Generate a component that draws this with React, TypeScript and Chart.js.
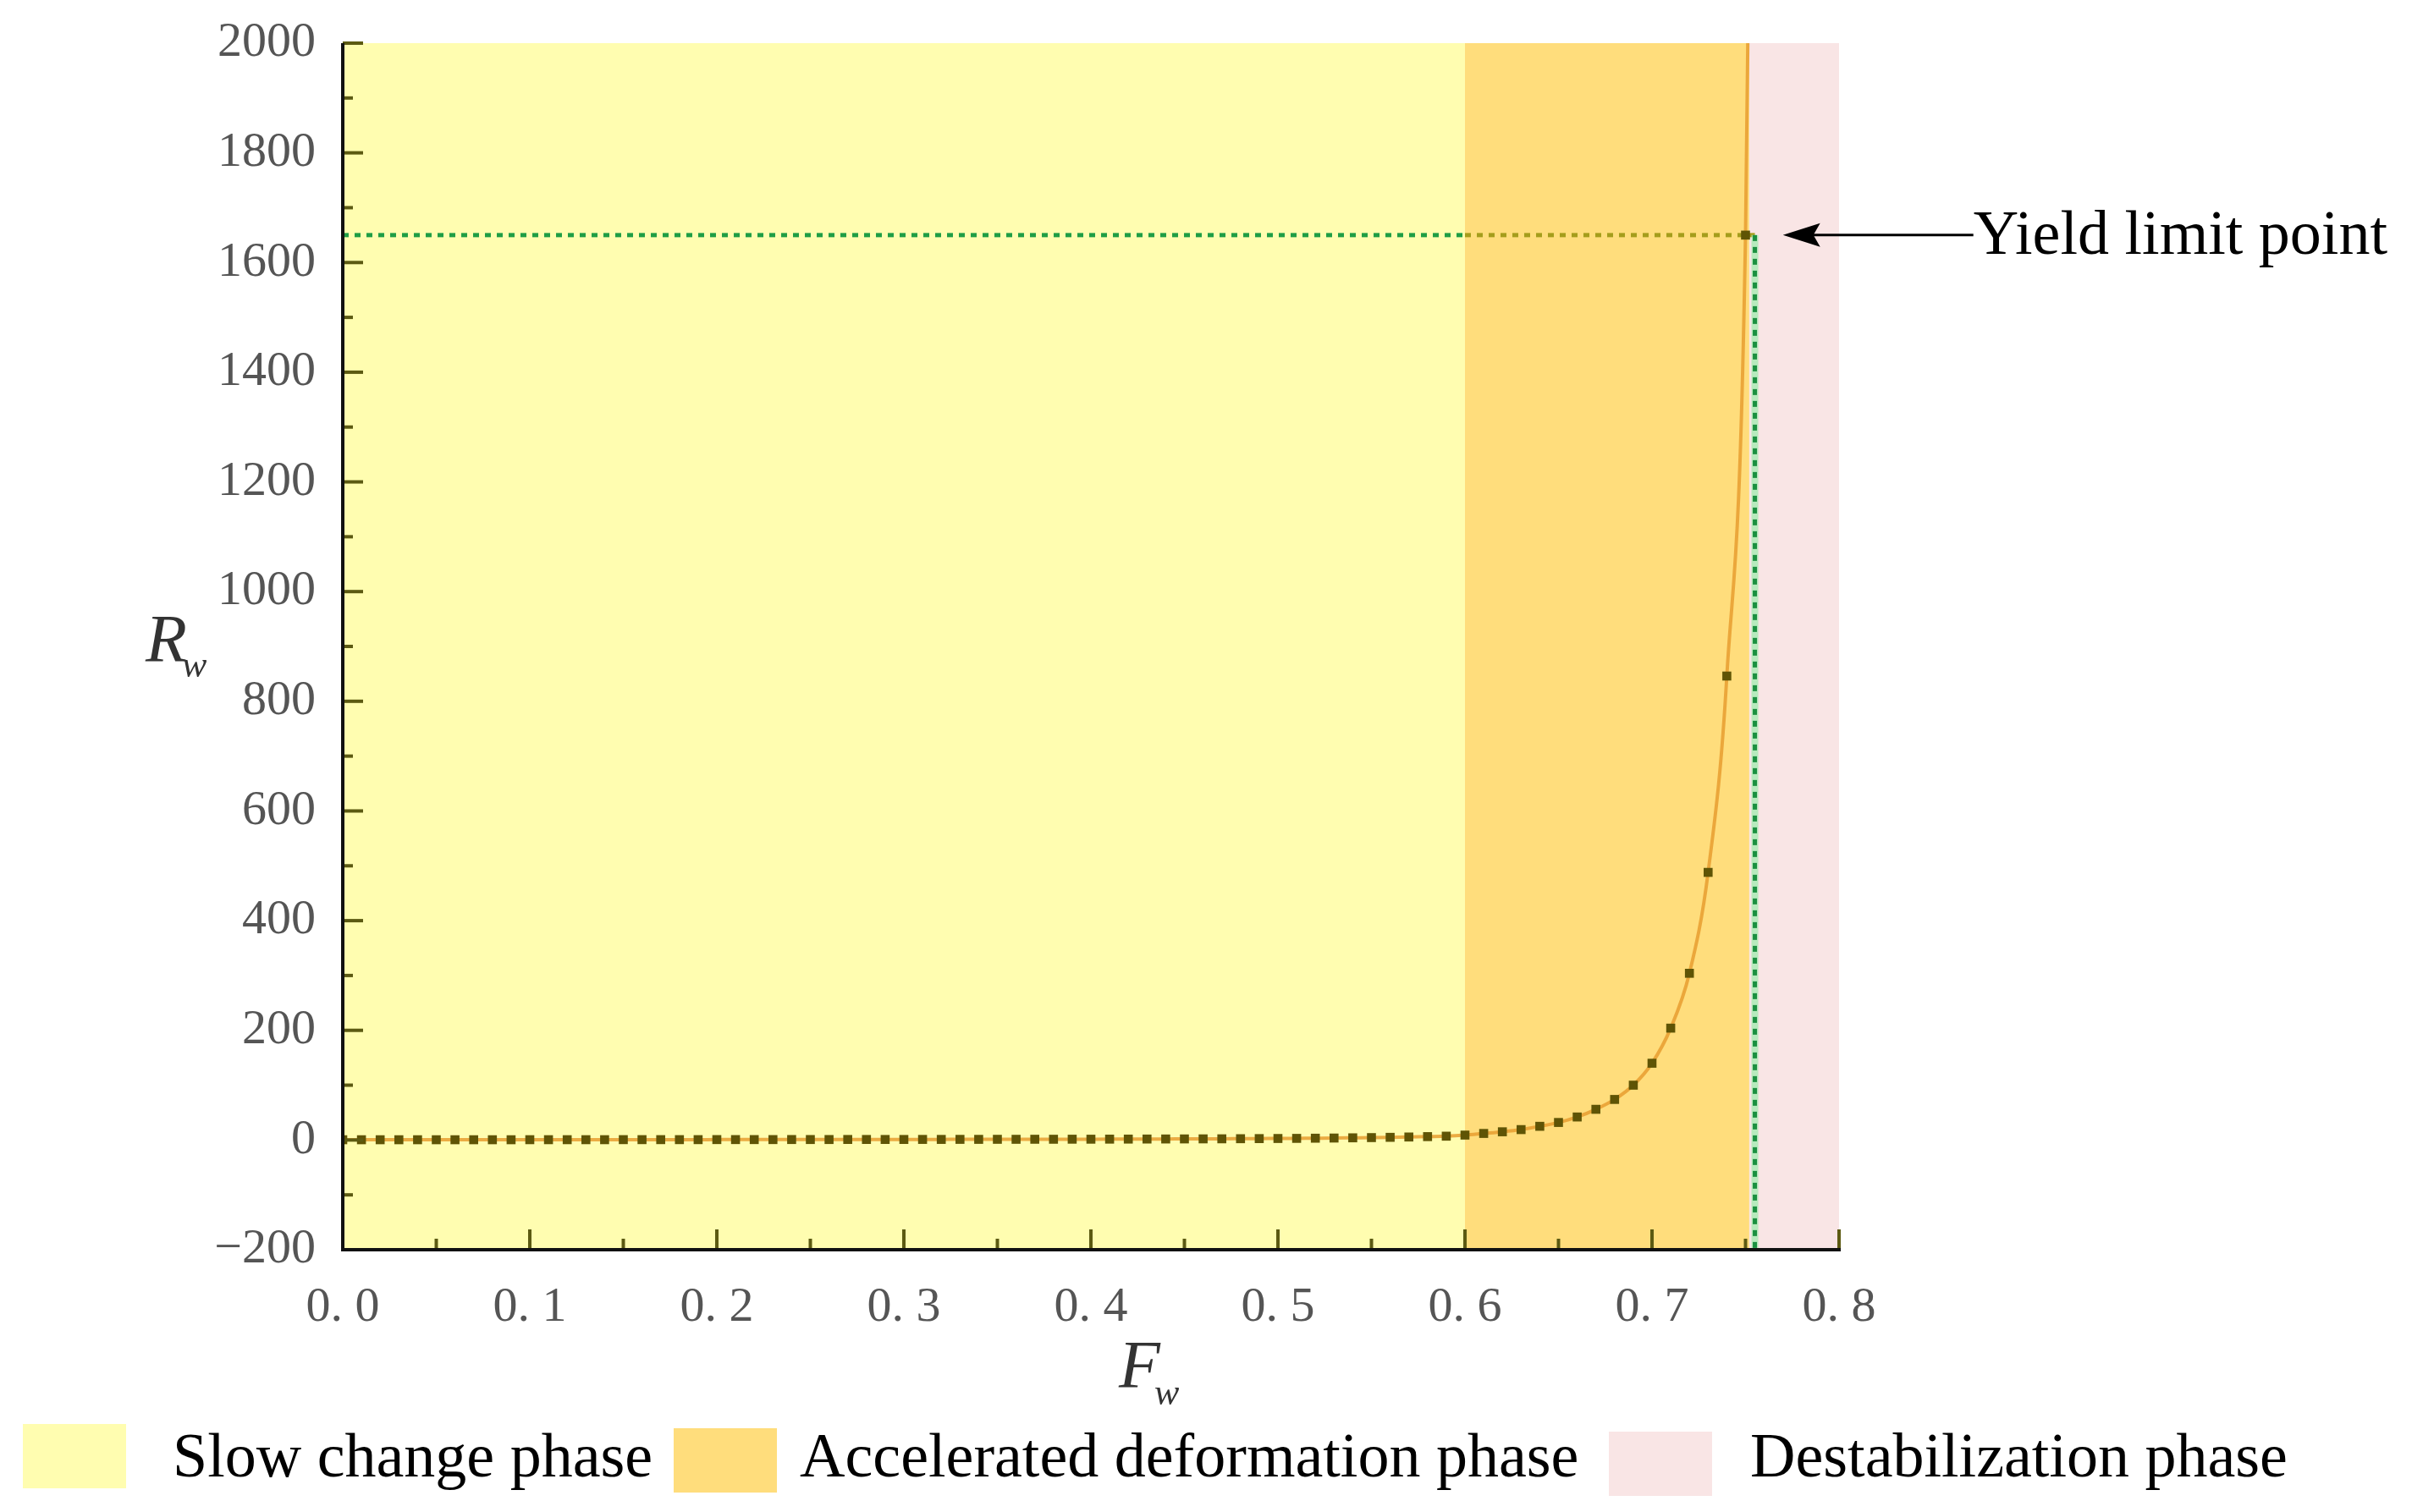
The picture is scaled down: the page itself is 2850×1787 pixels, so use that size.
import React, { useEffect, useRef } from 'react';
import { Chart, registerables } from 'chart.js';

Chart.register(...registerables);

// ---- Data ----
const FW_VALUES = [
  0.0, 0.01, 0.02, 0.03, 0.04, 0.05, 0.06, 0.07, 0.08, 0.09,
  0.1, 0.11, 0.12, 0.13, 0.14, 0.15, 0.16, 0.17, 0.18, 0.19,
  0.2, 0.21, 0.22, 0.23, 0.24, 0.25, 0.26, 0.27, 0.28, 0.29,
  0.3, 0.31, 0.32, 0.33, 0.34, 0.35, 0.36, 0.37, 0.38, 0.39,
  0.4, 0.41, 0.42, 0.43, 0.44, 0.45, 0.46, 0.47, 0.48, 0.49,
  0.5, 0.51, 0.52, 0.53, 0.54, 0.55, 0.56, 0.57, 0.58, 0.59,
  0.6, 0.61, 0.62, 0.63, 0.64, 0.65, 0.66, 0.67, 0.68, 0.69,
  0.7, 0.71, 0.72, 0.73, 0.74, 0.75, 0.7525,
];
const RW_VALUES = [
  0.5, 0.5, 0.5, 0.5, 0.5, 0.5, 0.5, 0.5, 0.5, 0.5,
  0.6, 0.6, 0.6, 0.6, 0.6, 0.7, 0.7, 0.7, 0.7, 0.7,
  0.8, 0.8, 0.8, 0.8, 0.9, 0.9, 0.9, 1, 1, 1,
  1, 1.1, 1.1, 1.2, 1.2, 1.3, 1.3, 1.4, 1.4, 1.5,
  1.5, 1.6, 1.7, 1.8, 1.9, 2, 2.1, 2.2, 2.4, 2.6,
  2.8, 3, 3.3, 3.6, 4, 4.4, 4.9, 5.5, 6.2, 7,
  9, 12, 15, 19, 25, 32, 42, 56, 74, 100,
  140, 204, 304, 488, 846, 1650, 2400,
];

const X_MIN = 0;
const X_MAX = 0.8;
const X_STEP = 0.1;
const Y_MIN = -200;
const Y_MAX = 2000;
const Y_STEP = 200;

const PHASE_NAMES = ['Slow change phase', 'Accelerated deformation phase', 'Destabilization phase'];
const PHASE_COLORS = ['#FFFDB0', '#FFDD7C', '#F9E5E5'];
const PHASE_BOUNDS = [0, 0.6, 0.752, 0.8];

const YIELD_FW = 0.755;
const YIELD_RW = 1650;
const YIELD_LABEL = 'Yield limit point';
const ARROW_TIP_FW = 0.77;

const X_TITLE = 'F';
const Y_TITLE = 'R';
const TITLE_SUB = 'w';

const SERIF = '"Liberation Serif", "Times New Roman", serif';

export default function App() {
  const canvasRef = useRef<HTMLCanvasElement | null>(null);

  useEffect(() => {
    const canvas = canvasRef.current;
    if (!canvas) return;

    const bgPlugin = {
      id: 'phaseBackground',
      beforeDatasetsDraw(chart: any) {
        const { ctx, chartArea, scales } = chart;
        const xs = scales.x;
        const ys = scales.y;
        ctx.save();
        for (let i = 0; i < PHASE_NAMES.length; i++) {
          const x0 = xs.getPixelForValue(PHASE_BOUNDS[i]);
          const x1 = xs.getPixelForValue(PHASE_BOUNDS[i + 1]);
          ctx.fillStyle = PHASE_COLORS[i];
          ctx.fillRect(x0, chartArea.top, x1 - x0, chartArea.bottom - chartArea.top);
        }
        // green dotted guide lines
        const yy = ys.getPixelForValue(YIELD_RW);
        const xv = xs.getPixelForValue(YIELD_FW);
        const xSplit = xs.getPixelForValue(PHASE_BOUNDS[1]);
        ctx.lineWidth = 5;
        ctx.setLineDash([7, 7]);
        ctx.strokeStyle = '#1f9e45';
        ctx.beginPath();
        ctx.moveTo(chartArea.left, yy);
        ctx.lineTo(xSplit, yy);
        ctx.stroke();
        ctx.strokeStyle = '#a59d1c';
        ctx.beginPath();
        ctx.moveTo(xSplit, yy);
        ctx.lineTo(xv, yy);
        ctx.stroke();
        // vertical with light halo
        ctx.setLineDash([]);
        ctx.lineWidth = 8;
        ctx.strokeStyle = 'rgba(160,235,175,0.75)';
        ctx.beginPath();
        ctx.moveTo(xv, yy);
        ctx.lineTo(xv, chartArea.bottom);
        ctx.stroke();
        ctx.setLineDash([7, 7]);
        ctx.lineWidth = 5;
        ctx.strokeStyle = '#1b8f40';
        ctx.beginPath();
        ctx.moveTo(xv, yy);
        ctx.lineTo(xv, chartArea.bottom);
        ctx.stroke();
        ctx.restore();
      },
    };

    const overlayPlugin = {
      id: 'overlay',
      afterDraw(chart: any) {
        const { ctx, chartArea, scales } = chart;
        const xs = scales.x;
        const ys = scales.y;
        ctx.save();
        // tick marks (inward)
        ctx.strokeStyle = '#5c5a12';
        ctx.lineWidth = 4;
        const xt = xs.ticks.map((t: any) => t.value);
        const drawXTick = (v: number, len: number) => {
          const p = xs.getPixelForValue(v);
          ctx.beginPath();
          ctx.moveTo(p, chartArea.bottom);
          ctx.lineTo(p, chartArea.bottom - len);
          ctx.stroke();
        };
        for (let i = 0; i < xt.length; i++) {
          drawXTick(xt[i], 24);
          if (i < xt.length - 1) drawXTick((xt[i] + xt[i + 1]) / 2, 13);
        }
        const yt = ys.ticks.map((t: any) => t.value);
        const drawYTick = (v: number, len: number) => {
          const p = ys.getPixelForValue(v);
          ctx.beginPath();
          ctx.moveTo(chartArea.left, p);
          ctx.lineTo(chartArea.left + len, p);
          ctx.stroke();
        };
        for (let i = 0; i < yt.length; i++) {
          drawYTick(yt[i], 24);
          if (i < yt.length - 1) drawYTick((yt[i] + yt[i + 1]) / 2, 12);
        }
        // axis lines
        ctx.strokeStyle = '#111';
        ctx.lineWidth = 4;
        ctx.beginPath();
        ctx.moveTo(chartArea.left, chartArea.top);
        ctx.lineTo(chartArea.left, chartArea.bottom);
        ctx.lineTo(chartArea.right + 2, chartArea.bottom);
        ctx.stroke();

        // axis titles
        ctx.fillStyle = '#333';
        ctx.textAlign = 'left';
        ctx.textBaseline = 'alphabetic';
        ctx.font = `italic 80px ${SERIF}`;
        ctx.fillText(Y_TITLE, 172, 782);
        ctx.font = `italic 44px ${SERIF}`;
        ctx.fillText(TITLE_SUB, 215, 800);
        ctx.font = `italic 80px ${SERIF}`;
        ctx.fillText(X_TITLE, 1322, 1640);
        ctx.font = `italic 44px ${SERIF}`;
        ctx.fillText(TITLE_SUB, 1364, 1660);

        // yield annotation arrow
        const ay = ys.getPixelForValue(YIELD_RW);
        const ax = xs.getPixelForValue(ARROW_TIP_FW);
        const textX = ax + 225;
        ctx.strokeStyle = '#000';
        ctx.fillStyle = '#000';
        ctx.lineWidth = 3;
        ctx.beginPath();
        ctx.moveTo(ax + 30, ay);
        ctx.lineTo(textX, ay);
        ctx.stroke();
        ctx.beginPath();
        ctx.moveTo(ax, ay);
        ctx.lineTo(ax + 44, ay - 14);
        ctx.lineTo(ax + 36, ay);
        ctx.lineTo(ax + 44, ay + 14);
        ctx.closePath();
        ctx.fill();
        ctx.font = `74px ${SERIF}`;
        ctx.textBaseline = 'alphabetic';
        ctx.fillText(YIELD_LABEL, textX, ay + 22);

        // legend
        const boxes = [
          [27, 1683],
          [796, 1688],
          [1901, 1692],
        ];
        const textXs = [204, 945, 2068];
        for (let i = 0; i < PHASE_NAMES.length; i++) {
          ctx.fillStyle = PHASE_COLORS[i];
          ctx.fillRect(boxes[i][0], boxes[i][1], 122, 76);
          ctx.fillStyle = '#000';
          ctx.font = `74px ${SERIF}`;
          ctx.fillText(PHASE_NAMES[i], textXs[i], 1745);
        }
        ctx.restore();
      },
    };

    const chart = new Chart(canvas, {
      type: 'line',
      data: {
        datasets: [
          {
            label: 'Rw',
            data: FW_VALUES.map((f, i) => ({ x: f, y: RW_VALUES[i] })),
            borderColor: 'rgba(232,158,48,0.85)',
            borderWidth: 4,
            cubicInterpolationMode: 'monotone',
            pointStyle: 'rect',
            pointRadius: (c: any) => (c.dataIndex === FW_VALUES.length - 1 ? 0 : 7.5),
            pointBackgroundColor: '#5f5405',
            pointBorderWidth: 0,
            fill: false,
          },
        ],
      },
      options: {
        animation: false,
        responsive: false,
        devicePixelRatio: 1,
        layout: { padding: { left: 0, right: 677, top: 51, bottom: 0 } },
        plugins: { legend: { display: false }, tooltip: { enabled: false } },
        scales: {
          x: {
            type: 'linear',
            min: X_MIN,
            max: X_MAX,
            afterFit: (s: any) => { s.height = 310; s.paddingLeft = 0; s.paddingRight = 0; },
            grid: { display: false, drawTicks: false },
            border: { display: false },
            ticks: {
              stepSize: X_STEP,
              padding: 34,
              maxRotation: 0,
              autoSkip: false,
              color: '#555',
              font: { family: SERIF, size: 58 },
              callback: (v: any) => Number(v).toFixed(1).replace('.', '. '),
            },
          },
          y: {
            type: 'linear',
            min: Y_MIN,
            max: Y_MAX,
            afterFit: (s: any) => { s.width = 405; s.paddingTop = 0; s.paddingBottom = 0; },
            grid: { display: false, drawTicks: false },
            border: { display: false },
            ticks: {
              stepSize: Y_STEP,
              padding: 32,
              autoSkip: false,
              color: '#555',
              font: { family: SERIF, size: 58 },
              callback: (v: any) => {
                const n = Math.round(Number(v));
                return n < 0 ? '\u2212' + String(-n) : String(n);
              },
            },
          },
        },
      },
      plugins: [bgPlugin, overlayPlugin],
    } as any);

    return () => chart.destroy();
  }, []);

  return (
    <div style={{ position: 'absolute', left: 0, top: 0, width: 2850, height: 1787, background: '#fff' }}>
      <canvas ref={canvasRef} width={2850} height={1787} style={{ display: 'block', width: 2850, height: 1787 }} />
    </div>
  );
}
